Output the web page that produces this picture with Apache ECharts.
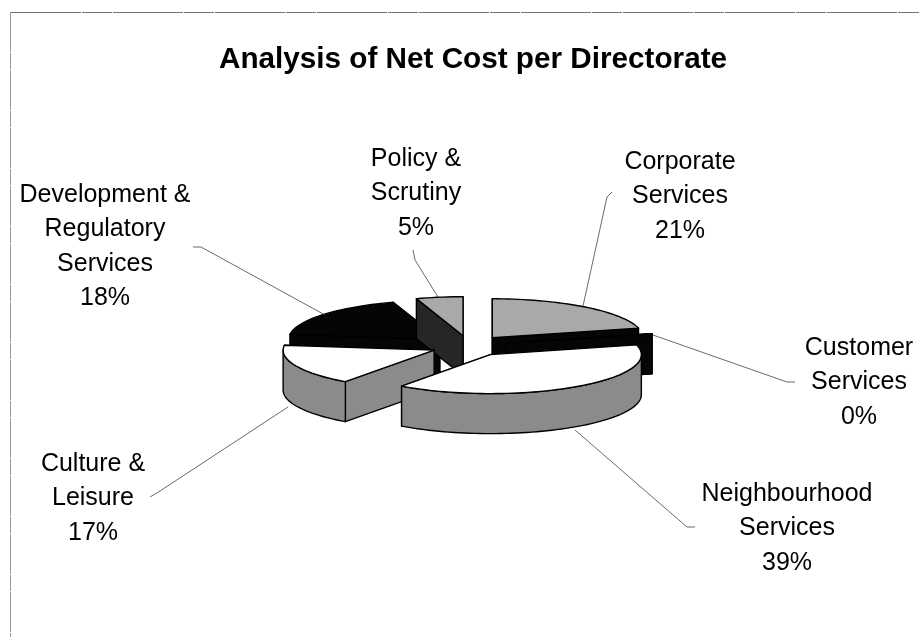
<!DOCTYPE html>
<html>
<head>
<meta charset="utf-8">
<style>html,body{margin:0;padding:0;background:#fff}#chart{width:919px;height:637px}</style>
<script src="https://cdn.jsdelivr.net/npm/echarts@6/dist/echarts.min.js"></script>
</head>
<body>
<div id="chart"></div>
<script>
// Net cost share per directorate, clockwise from twelve o'clock
const categories = ['Corporate Services', 'Customer Services', 'Neighbourhood Services', 'Culture & Leisure', 'Development & Regulatory Services', 'Policy & Scrutiny'];
const shares = [21, 0, 39, 17, 18, 5];
const labelLines = [['Corporate', 'Services'], ['Customer', 'Services'], ['Neighbourhood', 'Services'], ['Culture &', 'Leisure'], ['Development &', 'Regulatory', 'Services'], ['Policy &', 'Scrutiny']];

// Back-to-front painting order of the exploded slices
const paintOrder = [4, 5, 0, 1, 3, 2];

// Tilted pie projection
const pie = { cx: 469, cy: 346, rx: 151, ry: 39, depth: 40, explodeX: 38, explodeY: 10.4 };

const sliceStyles = [
  { top: '#a9a9a9', wall: '#050505', face: '#050505' },
  { top: '#050505', wall: '#050505', face: '#050505' },
  { top: '#ffffff', wall: '#8b8b8b', face: '#8b8b8b' },
  { top: '#ffffff', wall: '#8b8b8b', face: '#8b8b8b' },
  { top: '#050505', wall: '#050505', face: '#050505' },
  { top: '#a9a9a9', wall: '#262626', face: '#262626' }
];

// Label block centre, first row and leader-line route
const labelLayout = [
  { x: 680, y: 162, leader: [[612, 192], [607, 197], [583, 306]] },
  { x: 859, y: 348, leader: [[795, 382], [787, 382], [653, 335]] },
  { x: 787, y: 494, leader: [[695, 527], [687, 527], [575, 430]] },
  { x: 93, y: 464, leader: [[150, 497], [160, 491], [288, 407]] },
  { x: 105, y: 195, leader: [[193, 247], [201, 247], [325, 315]] },
  { x: 416, y: 159, leader: [[413, 250], [415, 260], [438, 297]] }
];
const lineHeight = 34.5;

const rad = d => d * Math.PI / 180;
const total = shares.reduce((a, b) => a + b, 0);
const spans = [];
shares.reduce((acc, v) => {
  spans.push([acc / total * 360, (acc + v) / total * 360]);
  return acc + v;
}, 0);

function rim(c, t, dy) {
  return [c[0] + pie.rx * Math.sin(rad(t)), c[1] - pie.ry * Math.cos(rad(t)) + (dy || 0)];
}

function renderSlice(params, api) {
  const i = api.value(0);
  const [a, b] = spans[i];
  const mid = rad((a + b) / 2);
  const c = [pie.cx + pie.explodeX * Math.sin(mid), pie.cy - pie.explodeY * Math.cos(mid)];
  const st = sliceStyles[i];
  const edge = { stroke: '#000', lineWidth: 1.4, lineJoin: 'round' };
  const kids = [];

  // Cut faces, the rearward one first
  const quad = t => {
    const p = rim(c, t);
    return [c, p, [p[0], p[1] + pie.depth], [c[0], c[1] + pie.depth]];
  };
  const faces = [a, b].map(quad).sort((q1, q2) => (q1[1][1] - q2[1][1]));
  faces.forEach(points => kids.push({ type: 'polygon', shape: { points }, style: Object.assign({ fill: st.face }, edge) }));

  // Outer wall for the part of the arc turned towards the viewer
  const w0 = Math.max(a, 90), w1 = Math.min(b, 270);
  if (w1 > w0) {
    const upper = [], lower = [];
    for (let t = w0; t < w1; t += 2) { upper.push(rim(c, t)); lower.push(rim(c, t, pie.depth)); }
    upper.push(rim(c, w1)); lower.push(rim(c, w1, pie.depth));
    kids.push({ type: 'polygon', shape: { points: upper.concat(lower.reverse()) }, style: Object.assign({ fill: st.wall }, edge) });
  }

  // Top surface
  const top = [c];
  for (let t = a; t < b; t += 2) top.push(rim(c, t));
  top.push(rim(c, b));
  kids.push({ type: 'polygon', shape: { points: top }, style: Object.assign({ fill: st.top }, edge) });

  // Leader line and label
  const lay = labelLayout[i];
  kids.push({ type: 'polyline', shape: { points: lay.leader }, style: { stroke: '#444', lineWidth: 0.8, fill: null }, z2: 5 });
  const lines = labelLines[i].concat([shares[i] + '%']);
  lines.forEach((text, k) => kids.push({
    type: 'text', z2: 6,
    style: { x: lay.x, y: lay.y + k * lineHeight, text, align: 'center', verticalAlign: 'middle', fill: '#000', font: '25px "Liberation Sans", Arial, sans-serif' }
  }));
  return { type: 'group', children: kids };
}

const chart = echarts.init(document.getElementById('chart'), null, { renderer: 'canvas' });
chart.setOption({
  animation: false,
  backgroundColor: '#fff',
  title: {
    text: 'Analysis of Net Cost per Directorate',
    left: 468, top: 40, textAlign: 'center',
    textStyle: { fontFamily: '"Liberation Sans", Arial, sans-serif', fontWeight: 'bold', fontSize: 29.7, color: '#000' }
  },
  graphic: [
    { type: 'line', shape: { x1: 11, y1: 12.5, x2: 919, y2: 12.5 }, style: { stroke: '#777', lineWidth: 1, lineDash: [70, 1, 30, 1] } },
    { type: 'line', shape: { x1: 10.5, y1: 12, x2: 10.5, y2: 637 }, style: { stroke: '#999', lineWidth: 1, lineDash: [40, 1, 16, 1] } }
  ],
  series: [{
    type: 'custom',
    coordinateSystem: 'none',
    renderItem: renderSlice,
    data: paintOrder.map(i => ({ name: categories[i], value: [i, shares[i]] })),
    encode: { value: 1 }
  }]
});
</script>
</body>
</html>
